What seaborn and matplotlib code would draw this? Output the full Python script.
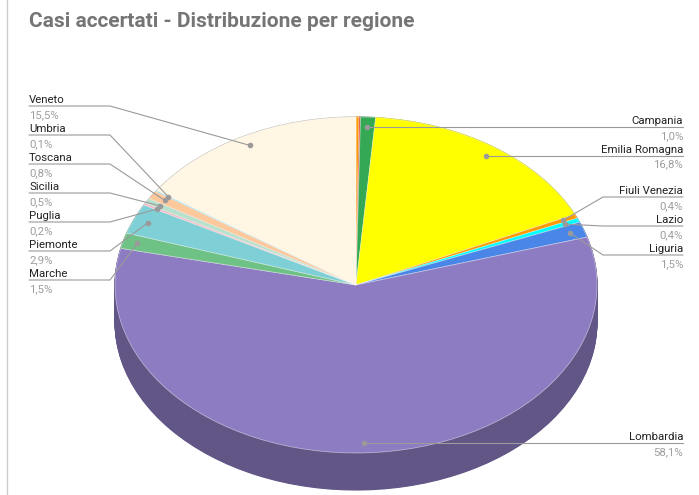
import numpy as np
import pandas as pd
import seaborn as sns
import matplotlib.pyplot as plt
import matplotlib.colors as mcolors

# Dati: percentuali per regione, in senso orario a partire dalle ore 12
regioni = ['Abruzzo', 'Basilicata', 'Campania', 'Emilia Romagna', 'Fiuli Venezia',
           'Lazio', 'Liguria', 'Lombardia', 'Marche', 'Piemonte', 'Puglia',
           'Sicilia', 'Toscana', 'Umbria', 'Veneto']
percentuali = [0.2, 0.1, 1.0, 16.8, 0.4, 0.4, 1.5, 58.1, 1.5, 2.9, 0.2, 0.5, 0.8, 0.1, 15.5]
colori = ['#ff9900', '#ea4335', '#34a853', '#ffff00', '#ff9900', '#00ffff', '#4a86e8',
          '#8e7cc3', '#6fc285', '#7ed0d6', '#f4b8c4', '#b7e1cd', '#fdc89b', '#76d7ea', '#fff6e4']

# Etichette: lato sinistro (righe dall'alto) e lato destro (None = allineata al punto)
etichette_sx = ['Veneto', 'Umbria', 'Toscana', 'Sicilia', 'Puglia', 'Piemonte', 'Marche']
etichette_dx = {'Campania': None, 'Emilia Romagna': None, 'Fiuli Venezia': 197,
                'Lazio': 226, 'Liguria': 255, 'Lombardia': None}

df = pd.DataFrame({'regione': regioni, 'perc': percentuali, 'colore': colori})

W, H = 699, 495
CX, CY, RX, RY, DEPTH = 356, 285, 241, 168, 37

sns.set_theme(style='white')
plt.rcParams['font.family'] = ['Roboto', 'DejaVu Sans']


def scurisci(c, f=0.69):
    r, g, b = mcolors.to_rgb(c)
    return (r * f, g * f, b * f)


fig = plt.figure(figsize=(W / 100, H / 100), dpi=100)
ax = fig.add_axes([0, 0, 1, 1])

# lato della torta 3D: strati scuri sovrapposti
scuri = [scurisci(c) for c in df['colore']]
for d in np.linspace(DEPTH / RY, 0, 45):
    ws, _ = ax.pie(df['perc'], colors=scuri, startangle=90, counterclock=False,
                   center=(0, -d), radius=1)
    for w in ws:
        w.set_edgecolor(w.get_facecolor())
        w.set_linewidth(0.8)

# faccia superiore
ax.pie(df['perc'], colors=df['colore'], startangle=90, counterclock=False,
       wedgeprops=dict(edgecolor=(1, 1, 1, 0.55), linewidth=0.5))
ax.set_aspect('auto')
ax.set_xlim(-CX / RX, (W - CX) / RX)
ax.set_ylim(-(H - CY) / RY, CY / RY)
ax.axis('off')

# posizione dei punti sulle fette
cum = df['perc'].cumsum()
mid = np.radians(360 * (cum - df['perc'] / 2) / df['perc'].sum())
df['px'] = CX + RX * 0.94 * np.sin(mid)
df['py'] = CY - RY * 0.94 * np.cos(mid)
df = df.set_index('regione')

lab = fig.add_axes([0, 0, 1, 1])
lab.set_xlim(0, W)
lab.set_ylim(H, 0)
lab.axis('off')
lab.patch.set_alpha(0)

LINEA = '#9a9a9a'
FS = 8.2


def fmt(v):
    return f'{v:.1f}'.replace('.', ',') + '%'


for i, reg in enumerate(etichette_sx):
    y = 106 + 29 * i
    px, py = df.loc[reg, 'px'], df.loc[reg, 'py']
    lab.plot([29, 110, px], [y, y, py], color=LINEA, lw=0.8)
    lab.plot(px, py, 'o', color=LINEA, ms=3)
    lab.text(29, y - 3, reg, ha='left', va='baseline', fontsize=FS, color='#222222')
    lab.text(29, y + 12, fmt(df.loc[reg, 'perc']), ha='left', va='baseline',
             fontsize=FS, color='#9e9e9e')

for reg, y in etichette_dx.items():
    px, py = df.loc[reg, 'px'], df.loc[reg, 'py']
    if y is None:
        y = py
        lab.plot([px, 683], [y, y], color=LINEA, lw=0.8)
    else:
        lab.plot([px, 603, 683], [py, y, y], color=LINEA, lw=0.8)
    lab.plot(px, py, 'o', color=LINEA, ms=3)
    lab.text(683, y - 3, reg, ha='right', va='baseline', fontsize=FS, color='#222222')
    lab.text(683, y + 12, fmt(df.loc[reg, 'perc']), ha='right', va='baseline',
             fontsize=FS, color='#9e9e9e')

lab.plot([7, 7], [0, H], color='#cccccc', lw=1)
lab.text(29, 27, 'Casi accertati - Distribuzione per regione', ha='left', va='baseline',
         fontsize=15, fontweight='bold', color='#757575')

fig.savefig('out.png', dpi=100)
